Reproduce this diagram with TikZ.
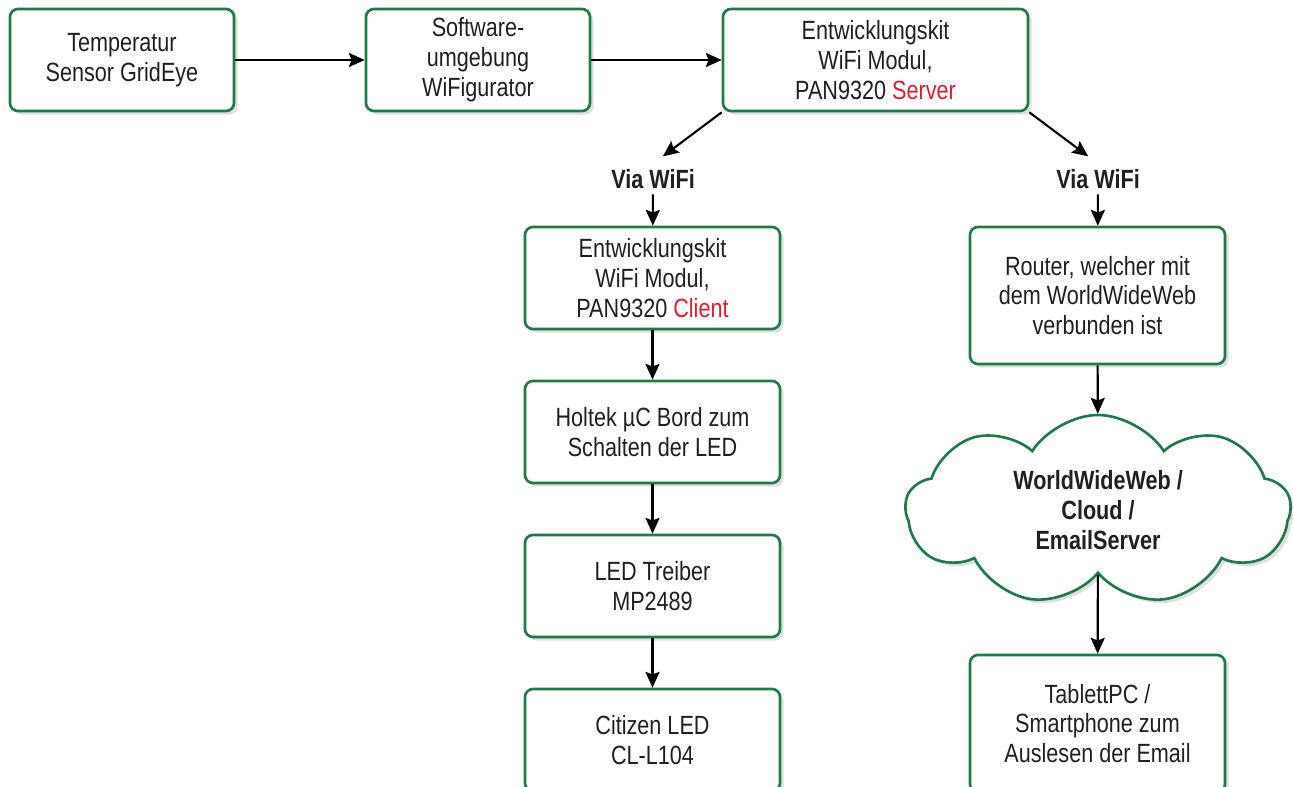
\documentclass[tikz,border=0pt]{standalone}
\usepackage{fontspec}
\setmainfont{Liberation Sans}[FakeStretch=0.82]
\usetikzlibrary{arrows.meta, shapes.symbols, shadows}
\definecolor{boxgreen}{RGB}{32,122,72}
\definecolor{txtred}{RGB}{218,32,44}
\definecolor{txtgray}{RGB}{35,31,32}
\begin{document}
\begin{tikzpicture}[every node/.style={font=\fontsize{15}{17}\selectfont, text=txtgray},
    blk/.style={draw=boxgreen, line width=1.5pt, rounded corners=4.5pt, fill=white,
      minimum height=2.04cm, align=center,
      drop shadow={opacity=0.25, shadow xshift=2pt, shadow yshift=-2pt}},
    lbl/.style={font=\fontsize{15}{17}\selectfont\bfseries, inner sep=3pt},
    arr/.style={line width=1.2pt, -{Stealth[length=9pt, width=8pt, inset=1.5pt]}}]
  \useasboundingbox (0,0) rectangle (25.86,-15.74);
  % Top row
  \node[blk, minimum width=4.48cm] (sensor) at (2.44,-1.2) {Temperatur\\Sensor GridEye};
  \node[blk, minimum width=4.48cm] (wifig) at (9.56,-1.2) {Software-\\umgebung\\WiFigurator};
  \node[blk, minimum width=6.1cm] (server) at (17.51,-1.2) {Entwicklungskit\\WiFi Modul,\\PAN9320 \textcolor{txtred}{Server}};
  % Via WiFi labels
  \node[lbl] (via1) at (13.06,-3.58) {Via WiFi};
  \node[lbl] (via2) at (21.96,-3.58) {Via WiFi};
  % Left column
  \node[blk, minimum width=5.1cm] (client) at (13.05,-5.56) {Entwicklungskit\\WiFi Modul,\\PAN9320 \textcolor{txtred}{Client}};
  \node[blk, minimum width=5.1cm] (holtek) at (13.05,-8.64) {Holtek µC Bord zum\\Schalten der LED};
  \node[blk, minimum width=5.1cm] (treiber) at (13.05,-11.72) {LED Treiber\\MP2489};
  \node[blk, minimum width=5.1cm] (citizen) at (13.05,-14.8) {Citizen LED\\CL-L104};
  % Right column
  \node[blk, minimum width=5.1cm, minimum height=2.74cm] (router) at (21.95,-5.91) {Router, welcher mit\\dem WorldWideWeb\\verbunden ist};
  \node[cloud, cloud puffs=9, cloud puff arc=115, cloud ignores aspect, draw=boxgreen, line width=1.5pt, fill=white,
    minimum width=7.7cm, minimum height=3.8cm, align=center, font=\fontsize{15}{17}\selectfont\bfseries,
    drop shadow={opacity=0.25, shadow xshift=2pt, shadow yshift=-2pt}] (cloud) at (21.96,-10.2)
    {WorldWideWeb /\\Cloud /\\EmailServer};
  \node[blk, minimum width=5.1cm, minimum height=2.74cm] (tablet) at (21.95,-14.47) {TablettPC /\\Smartphone zum\\Auslesen der Email};
  % Connectors
  \draw[arr] (sensor) -- (wifig);
  \draw[arr] (wifig) -- (server);
  \draw[arr, shorten >=7pt] (server.south west) -- (via1.north);
  \draw[arr, shorten >=7pt] (server.south east) -- (via2.north);
  \draw[arr] (via1) -- (client);
  \draw[arr] (client) -- (holtek);
  \draw[arr] (holtek) -- (treiber);
  \draw[arr] (treiber) -- (citizen);
  \draw[arr] (via2) -- (router);
  \draw[arr] (router) -- (cloud);
  \draw[arr] (cloud) -- (tablet);
\end{tikzpicture}
\end{document}
